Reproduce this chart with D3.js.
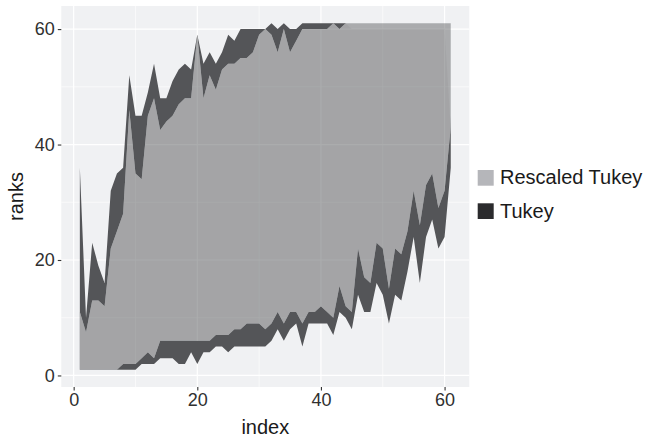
<!DOCTYPE html>
<html>
<head>
<meta charset="utf-8">
<script src="https://cdn.jsdelivr.net/npm/d3@7"></script>
<style>
  html, body { margin: 0; padding: 0; background: #ffffff; }
  text { font-family: "Liberation Sans", Arial, Helvetica, sans-serif; }
</style>
</head>
<body>
<div id="chart"></div>
<script>
// index positions (x)
const index = [1,2,3,4,5,6,7,8,9,10,11,12,13,14,15,16,17,18,19,20,
  21,22,23,24,25,26,27,28,29,30,31,32,33,34,35,36,37,38,39,40,
  41,42,43,44,45,46,47,48,49,50,51,52,53,54,55,56,57,58,59,60,61]

// Tukey interval (dark)
const tukeyLower = [1,1,1,1,1,1,1,1,1,1,2,2,2,3,3,3,2,2,4,2,
  4,4,5,5,4,5,5,5,5,5,5,6,8,6,8,9,5,9,9,9,
  9,7,11,10,8,14,11,11,16,14,9,14,13,18,24,16,24,27,22,24,36]
const tukeyUpper = [36,10,23,19,16,32,35,36,52,45,45,49,54,48,48,51,53,54,53,59,
  54,56,54,56,59,58,60,60,60,60,60,61,60,61,60,60,61,61,61,61,
  61,61,61,61,60,60,60,60,60,60,60,60,60,60,60,60,60,60,60,60,43]

// Rescaled Tukey interval (light)
const rescaledLower = [1,1,1,1,1,1,1,2,2,2,3,4,3,6,6,6,6,6,6,6,
  6,6,7,7,7,8,8,9,9,9,8,9,11,9,11,11,9,11,11,12,
  11,10,15.5,12,11,22,17,16,23,22,15,22,21,25,32,26,33,35,29,32,43]
const rescaledUpper = [11,7.5,13,13,12,22,25,28,46,35,34,45,48,42.5,44,45,47,48,48,59,
  48,52,49.5,53,54,54,55,55,56,59,60,59,56,60,56,58,60,60,60,60,
  60,61,60,61,61,61,61,61,61,61,61,61,61,61,61,61,61,61,61,61,61]

const xTicks = [0, 20, 40, 60]
const xMinor = [10, 30, 50]
const yTicks = [0, 20, 40, 60]
const yMinor = [10, 30, 50]
const seriesNames = ['Rescaled Tukey', 'Tukey']

const width = 647, height = 439
const panel = {left: 61.3, right: 469.3, top: 6, bottom: 387}

const svg = d3.select('#chart').append('svg')
  .attr('width', width)
  .attr('height', height)

const x = d3.scaleLinear().domain([-2, 64]).range([panel.left, panel.right])
const y = d3.scaleLinear().domain([-2, 64]).range([panel.bottom, panel.top])

const rows = index.map((d, i) => ({
  i: d,
  tl: tukeyLower[i], tu: tukeyUpper[i],
  rl: rescaledLower[i], ru: rescaledUpper[i]
}))

const tukeyArea = d3.area().x(d => x(d.i)).y0(d => y(d.tl)).y1(d => y(d.tu))
const rescArea = d3.area().x(d => x(d.i)).y0(d => y(d.rl)).y1(d => y(d.ru))

const defs = svg.append('defs')
defs.append('clipPath').attr('id', 'panelClip')
  .append('rect')
  .attr('x', panel.left).attr('y', panel.top)
  .attr('width', panel.right - panel.left).attr('height', panel.bottom - panel.top)

// dark band only shows outside the light ribbon
const mask = defs.append('mask').attr('id', 'outsideLight')
mask.append('rect')
  .attr('x', 0).attr('y', 0).attr('width', width).attr('height', height)
  .attr('fill', '#fff')
mask.append('path').datum(rows).attr('d', rescArea).attr('fill', '#000')

defs.append('clipPath').attr('id', 'lightClip')
  .append('path').datum(rows).attr('d', rescArea)

// panel background + grid
svg.append('rect')
  .attr('x', panel.left).attr('y', panel.top)
  .attr('width', panel.right - panel.left).attr('height', panel.bottom - panel.top)
  .attr('fill', '#f0f1f3')

const grid = svg.append('g')
grid.selectAll('.ymin').data(yMinor).enter().append('line')
  .attr('x1', panel.left).attr('x2', panel.right)
  .attr('y1', d => y(d)).attr('y2', d => y(d))
  .attr('stroke', '#fff').attr('stroke-width', 0.6)
grid.selectAll('.xmin').data(xMinor).enter().append('line')
  .attr('y1', panel.top).attr('y2', panel.bottom)
  .attr('x1', d => x(d)).attr('x2', d => x(d))
  .attr('stroke', '#fff').attr('stroke-width', 0.6)
grid.selectAll('.ymaj').data(yTicks).enter().append('line')
  .attr('x1', panel.left).attr('x2', panel.right)
  .attr('y1', d => y(d)).attr('y2', d => y(d))
  .attr('stroke', '#fff').attr('stroke-width', 1.2)
grid.selectAll('.xmaj').data(xTicks).enter().append('line')
  .attr('y1', panel.top).attr('y2', panel.bottom)
  .attr('x1', d => x(d)).attr('x2', d => x(d))
  .attr('stroke', '#fff').attr('stroke-width', 1.2)

const plot = svg.append('g').attr('clip-path', 'url(#panelClip)')

plot.append('path').datum(rows)
  .attr('d', tukeyArea)
  .attr('fill', '#545558')
  .attr('mask', 'url(#outsideLight)')

plot.append('path').datum(rows)
  .attr('d', rescArea)
  .attr('fill', '#555659')
  .attr('fill-opacity', 0.45)

// slight darkening where both intervals overlap
plot.append('g').attr('clip-path', 'url(#lightClip)')
  .append('path').datum(rows)
  .attr('d', tukeyArea)
  .attr('fill', '#000')
  .attr('fill-opacity', 0.035)

// axes
const xAxis = svg.append('g')
  .attr('transform', 'translate(0,' + panel.bottom + ')')
  .call(d3.axisBottom(x).tickValues(xTicks).tickSize(3.5).tickPadding(3))
const yAxis = svg.append('g')
  .attr('transform', 'translate(' + panel.left + ',0)')
  .call(d3.axisLeft(y).tickValues(yTicks).tickSize(3.5).tickPadding(3))

;[xAxis, yAxis].forEach(a => {
  a.select('.domain').remove()
  a.selectAll('line').attr('stroke', '#333').attr('stroke-width', 1.1)
  a.selectAll('text').attr('fill', '#303030').attr('font-size', 18)
    .style('font-family', '"Liberation Sans", Arial, sans-serif')
})

svg.append('text')
  .attr('x', (panel.left + panel.right) / 2).attr('y', 434)
  .attr('text-anchor', 'middle').attr('font-size', 20).attr('fill', '#1a1a1a')
  .text('index')
svg.append('text')
  .attr('transform', 'translate(23,' + ((panel.top + panel.bottom) / 2) + ') rotate(-90)')
  .attr('text-anchor', 'middle').attr('font-size', 20).attr('fill', '#1a1a1a')
  .text('ranks')

// legend
const legendColor = d3.scaleOrdinal().domain(seriesNames).range(['#b5b6ba', '#2b2b2d'])
const legend = svg.append('g').attr('transform', 'translate(477.7,170)')
const item = legend.selectAll('g').data(seriesNames).enter().append('g')
  .attr('transform', (d, i) => 'translate(0,' + (i * 33.3) + ')')
item.append('rect')
  .attr('width', 16).attr('height', 15.7)
  .attr('fill', d => legendColor(d))
item.append('text')
  .attr('x', 22.3).attr('y', 14.3)
  .attr('font-size', 20).attr('fill', '#1a1a1a')
  .text(d => d)
</script>
</body>
</html>
